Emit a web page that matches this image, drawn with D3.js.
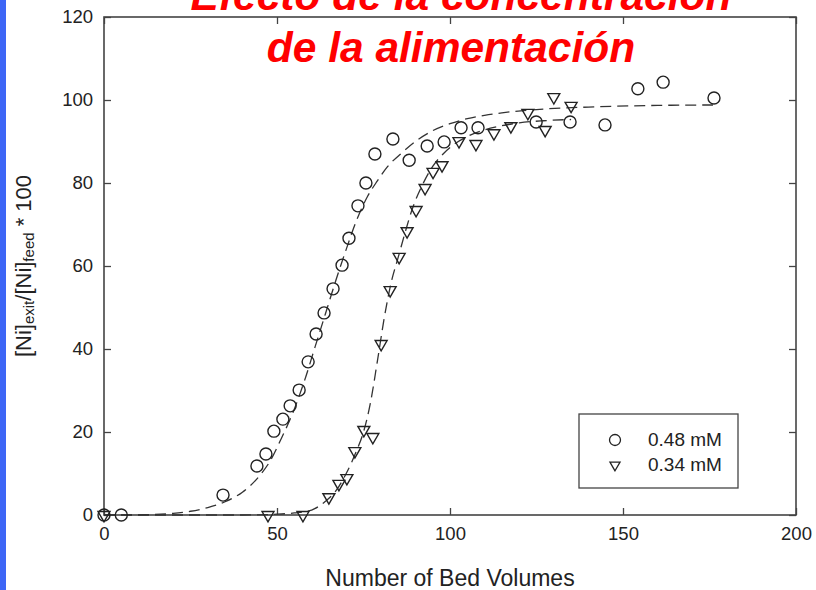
<!DOCTYPE html>
<html>
<head>
<meta charset="utf-8">
<script src="https://cdn.jsdelivr.net/npm/d3@7"></script>
<style>
  body { margin: 0; background: #fff; }
  svg { display: block; font-family: "Liberation Sans", Arial, sans-serif; }
</style>
</head>
<body>
<div id="chart"></div>
<script>
// data
let circleX = [0, 5, 34.4, 44.2, 46.8, 49.1, 51.7, 53.8, 56.4, 59, 61.3, 63.6, 66.2, 68.8, 70.8, 73.4, 75.7, 78.3, 83.5, 88.2, 93.4, 98.3, 103.2, 108.1, 124.9, 134.7, 144.8, 154.3, 161.6, 176.3]
let circleY = [0, 0, 4.8, 11.8, 14.7, 20.2, 23.1, 26.3, 30.1, 36.9, 43.6, 48.7, 54.5, 60.2, 66.7, 74.5, 80, 87, 90.6, 85.5, 88.9, 89.9, 93.3, 93.3, 94.7, 94.7, 94, 102.7, 104.3, 100.5]

let triX = [0, 47.4, 57.5, 65, 67.9, 70.2, 72.5, 75.1, 77.7, 80.1, 82.7, 85.3, 87.6, 90.2, 92.8, 95.1, 97.7, 102.6, 107.5, 112.7, 117.6, 122.5, 127.5, 130, 135]
let triY = [0, 0, 0, 4.3, 7.5, 8.9, 15.4, 20.5, 18.8, 41.2, 54.2, 62.2, 68.4, 73.5, 78.8, 82.7, 84.3, 90.1, 89.4, 92, 93.7, 96.9, 92.8, 100.7, 98.6]

// dashed fit lines
let fitCircleX = [0, 10, 20, 25, 30, 35, 40, 45, 48, 51, 55, 58, 61, 64, 67, 70, 73, 76, 79, 82, 86, 90, 95, 100, 105, 110, 115, 125, 140, 160, 176]
let fitCircleY = [0, 0.05, 0.4, 0.9, 1.8, 3.2, 5.5, 9.5, 13, 18, 25.5, 32.5, 40.5, 48.5, 56.5, 64, 71, 76.5, 80.5, 84, 87.2, 90, 92.6, 94.3, 95.5, 96.3, 96.9, 97.7, 98.3, 98.7, 98.8]

let fitTriX = [0, 40, 50, 55, 60, 64, 67, 70, 73, 75, 77, 79, 81, 83, 85, 87, 89, 92, 95, 98, 101, 105, 110, 115, 120, 127, 135]
let fitTriY = [0, 0, 0.2, 0.5, 1.2, 3.3, 5.8, 10, 15.5, 20, 27, 37, 47.5, 56, 62, 68, 73.5, 79.5, 84, 87, 89.2, 91.2, 92.8, 93.8, 94.5, 95, 95.3]

let xTicks = [0, 50, 100, 150, 200]
let yTicks = [0, 20, 40, 60, 80, 100, 120]
let legendLabels = ['0.48 mM', '0.34 mM']
let titleLines = ['Efecto de la concentración', 'de la alimentación']

let W = 816, H = 590
let margin = { top: 17, left: 104, right: 20, bottom: 75 }
let width = W - margin.left - margin.right
let height = H - margin.top - margin.bottom

let svg = d3.select('#chart').append('svg')
  .attr('width', W)
  .attr('height', H)

svg.append('rect').attr('width', W).attr('height', H).attr('fill', '#fff')
// blue strip on the left edge
svg.append('rect').attr('x', 0).attr('y', 0).attr('width', 6).attr('height', H).attr('fill', '#3d66f6')

let g = svg.append('g')
  .attr('transform', 'translate(' + margin.left + ',' + margin.top + ')')

let x = d3.scaleLinear().domain([0, 200]).range([0, width])
let y = d3.scaleLinear().domain([0, 120]).range([height, 0])

let axisColor = '#444'

// axes, ticks pointing inward on all sides
let axBottom = g.append('g')
  .attr('transform', 'translate(0,' + height + ')')
  .call(d3.axisBottom(x).tickValues(xTicks).tickSizeInner(-7).tickSizeOuter(0).tickPadding(12))
let axLeft = g.append('g')
  .call(d3.axisLeft(y).tickValues(yTicks).tickSizeInner(-7).tickSizeOuter(0).tickPadding(11))
let axTop = g.append('g')
  .call(d3.axisTop(x).tickValues(xTicks).tickSizeInner(-7).tickSizeOuter(0).tickFormat(''))
let axRight = g.append('g')
  .attr('transform', 'translate(' + width + ',0)')
  .call(d3.axisRight(y).tickValues(yTicks).tickSizeInner(-7).tickSizeOuter(0).tickFormat(''))

g.selectAll('.domain').remove()
g.selectAll('.tick line').attr('stroke', axisColor).attr('stroke-width', 1.3)
g.selectAll('.tick text')
  .attr('fill', '#222')
  .style('font-size', '18.5px')
  .style('font-family', '"Liberation Sans", Arial, sans-serif')
axBottom.selectAll('.tick text').attr('dy', '0.71em')

g.append('rect')
  .attr('width', width)
  .attr('height', height)
  .attr('fill', 'none')
  .attr('stroke', axisColor)
  .attr('stroke-width', 1.6)

// fit lines
let line = d3.line()
  .x(function(d) { return x(d[0]) })
  .y(function(d) { return y(d[1]) })
  .curve(d3.curveMonotoneX)

let fits = [d3.zip(fitCircleX, fitCircleY), d3.zip(fitTriX, fitTriY)]
g.selectAll('.fit')
  .data(fits)
  .enter().append('path')
  .attr('class', 'fit')
  .attr('d', line)
  .attr('fill', 'none')
  .attr('stroke', '#333')
  .attr('stroke-width', 1.3)
  .attr('stroke-dasharray', '11,6')

// markers
let markColor = '#222'
g.selectAll('.circ')
  .data(d3.zip(circleX, circleY))
  .enter().append('circle')
  .attr('class', 'circ')
  .attr('cx', function(d) { return x(d[0]) })
  .attr('cy', function(d) { return y(d[1]) })
  .attr('r', 6)
  .attr('fill', 'none')
  .attr('stroke', markColor)
  .attr('stroke-width', 1.4)

let tri = d3.symbol().type(d3.symbolTriangle).size(62)
g.selectAll('.tri')
  .data(d3.zip(triX, triY))
  .enter().append('path')
  .attr('class', 'tri')
  .attr('d', tri)
  .attr('transform', function(d) { return 'translate(' + x(d[0]) + ',' + y(d[1]) + ') rotate(180)' })
  .attr('fill', 'none')
  .attr('stroke', markColor)
  .attr('stroke-width', 1.4)

// legend
let lg = svg.append('g').attr('transform', 'translate(579,414)')
lg.append('rect')
  .attr('width', 159)
  .attr('height', 74)
  .attr('fill', '#fff')
  .attr('stroke', axisColor)
  .attr('stroke-width', 1.3)
lg.append('circle')
  .attr('cx', 36).attr('cy', 26).attr('r', 5.5)
  .attr('fill', 'none').attr('stroke', markColor).attr('stroke-width', 1.3)
lg.append('path')
  .attr('d', d3.symbol().type(d3.symbolTriangle).size(44))
  .attr('transform', 'translate(36,51) rotate(180)')
  .attr('fill', 'none').attr('stroke', markColor).attr('stroke-width', 1.3)
lg.selectAll('.lbl')
  .data(legendLabels)
  .enter().append('text')
  .attr('class', 'lbl')
  .attr('x', 69)
  .attr('y', function(d, i) { return 32 + i * 25 })
  .attr('fill', '#222')
  .style('font-size', '19px')
  .text(function(d) { return d })

// axis titles
svg.append('text')
  .attr('x', 450)
  .attr('y', 586)
  .attr('text-anchor', 'middle')
  .attr('fill', '#222')
  .style('font-size', '23px')
  .text('Number of Bed Volumes')

let yt = svg.append('text')
  .attr('transform', 'translate(31,266) rotate(-90)')
  .attr('text-anchor', 'middle')
  .attr('fill', '#222')
  .style('font-size', '22px')
yt.append('tspan').text('[Ni]')
yt.append('tspan').attr('baseline-shift', '-22%').style('font-size', '15px').text('exit')
yt.append('tspan').text('/[Ni]')
yt.append('tspan').attr('baseline-shift', '-22%').style('font-size', '15px').text('feed')
yt.append('tspan').attr('baseline-shift', '0%').text(' * 100')

// title (partly cut at the top, as in the source)
svg.selectAll('.title')
  .data(titleLines)
  .enter().append('text')
  .attr('class', 'title')
  .attr('x', function(d, i) { return i === 0 ? 461 : 451 })
  .attr('y', function(d, i) { return 10 + i * 51.5 })
  .attr('text-anchor', 'middle')
  .attr('fill', '#ff0000')
  .style('font-size', '42.5px')
  .style('font-weight', 'bold')
  .style('font-style', 'italic')
  .text(function(d) { return d })
</script>
</body>
</html>
